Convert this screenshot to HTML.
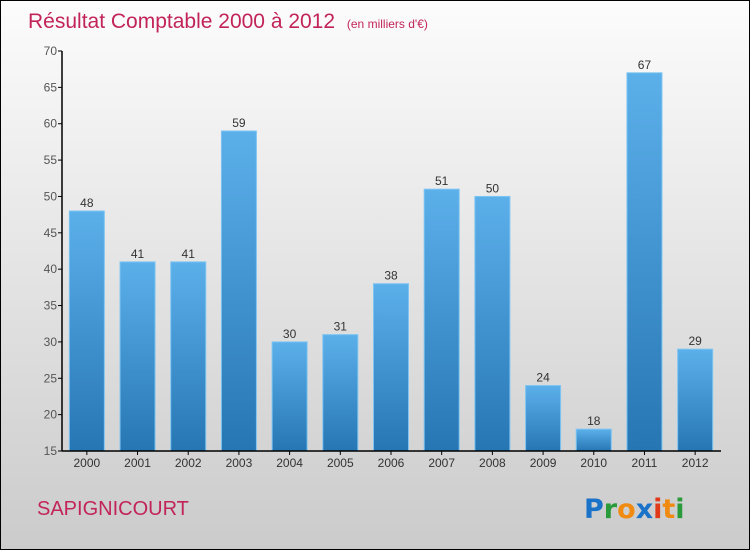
<!DOCTYPE html>
<html><head><meta charset="utf-8"><style>
body{margin:0}
#c{width:750px;height:550px;position:relative;box-sizing:border-box;border:1px solid #000;background:linear-gradient(#fcfcfc,#cbcbcb);font-family:"Liberation Sans",sans-serif;overflow:hidden}
</style></head><body>
<div id="c">
<svg id="s" width="750" height="550" style="position:absolute;left:0;top:0">
<defs><linearGradient id="g" x1="0" y1="0" x2="0" y2="1"><stop offset="0" stop-color="#5cb0ea"/><stop offset="1" stop-color="#2676b4"/></linearGradient></defs>
<text x="27" y="27" font-size="21" fill="#c2245a">Résultat Comptable 2000 à 2012 <tspan font-size="12" dx="6">(en milliers d'€)</tspan></text>
<text x="36" y="514" font-size="20" fill="#c2245a">SAPIGNICOURT</text>
<g font-size="27" font-weight="bold" font-family="'DejaVu Sans',sans-serif">
<text x="583" y="517"><tspan fill="#1a73c8">P</tspan><tspan fill="#2a9a3a">r</tspan><tspan fill="#f08a10">o</tspan><tspan fill="#1a73c8">x</tspan><tspan fill="#e03a1a">i</tspan><tspan fill="#f08a10">t</tspan><tspan fill="#2a9a3a">i</tspan></text></g>
<g id="bars"></g><g id="axes"></g>
</svg>
</div>
<script>
const categories=["2000","2001","2002","2003","2004","2005","2006","2007","2008","2009","2010","2011","2012"];
const values=[48,41,41,59,30,31,38,51,50,24,18,67,29];
const yTicks=[15,20,25,30,35,40,45,50,55,60,65,70];
const ns="http://www.w3.org/2000/svg";
const y0=450,y1=50,vmin=15,vmax=70,xl=61,xr=720;
const y=v=>y0-(v-vmin)*(y0-y1)/(vmax-vmin);
const step=(xr-xl)/categories.length;
const xc=i=>xl+step*(i+0.5)-0.5;
function mk(t,a,p){const e=document.createElementNS(ns,t);for(const k in a)e.setAttribute(k,a[k]);p.appendChild(e);return e;}
const B=document.getElementById('bars'),A=document.getElementById('axes');
values.forEach((v,i)=>{
 const r=mk('rect',{x:xc(i)-17.5,y:y(v),width:35,height:y0-y(v),fill:'url(#g)',stroke:'#7cc4f2','stroke-width':1},B);
 
 
 const t=mk('text',{x:xc(i),y:y(v)-4,'text-anchor':'middle','font-size':12,fill:'#333'},B);t.textContent=v;
 
 
 const c=mk('text',{x:xc(i),y:466,'text-anchor':'middle','font-size':12,fill:'#333'},A);c.textContent=categories[i];
 
 
 mk('line',{x1:xc(i),x2:xc(i),y1:y0,y2:y0+4,stroke:'#000'},A);
});
yTicks.forEach(v=>{
 mk('line',{x1:xl-4,x2:xl,y1:y(v),y2:y(v),stroke:'#000'},A);
 const t=mk('text',{x:xl-5,y:y(v)+4,'text-anchor':'end','font-size':12,fill:'#555'},A);t.textContent=v;
 
 
});
const ya=mk('line',{x1:xl,x2:xl,y1:y1,y2:y0,stroke:'#000','stroke-width':1.5},A);


const xa=mk('line',{x1:xl,x2:xr,y1:y0,y2:y0,stroke:'#000','stroke-width':1.5},A);


</script>
</body></html>
